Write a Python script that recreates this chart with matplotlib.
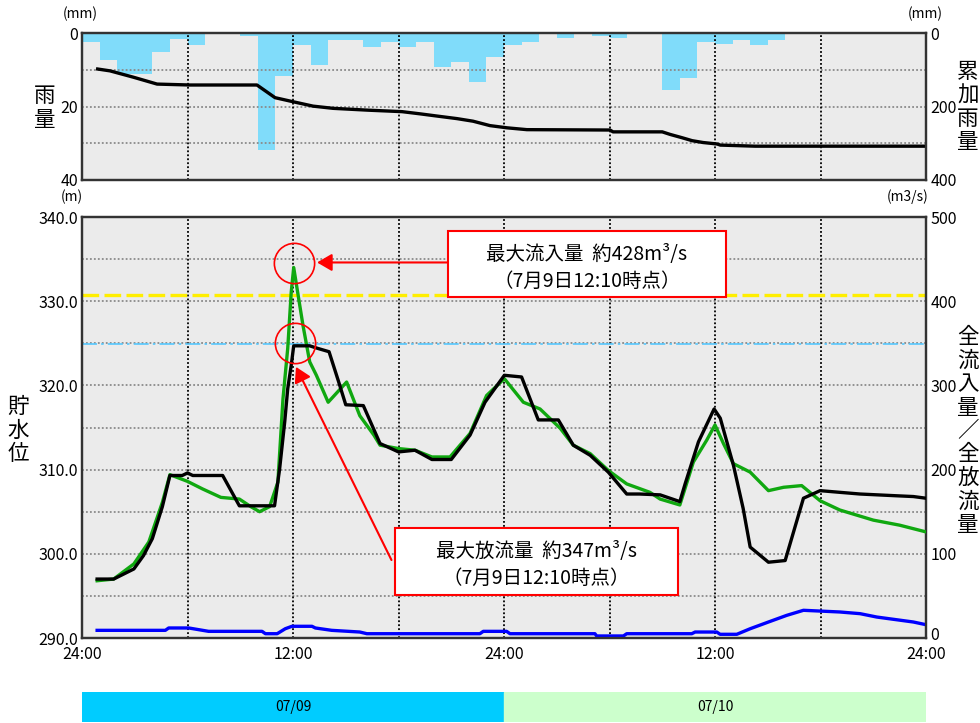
import numpy as np
import matplotlib
matplotlib.use('Agg')
import matplotlib.pyplot as plt
from matplotlib.patches import Rectangle
from matplotlib.transforms import ScaledTranslation

plt.rcParams['font.family'] = ['Noto Sans CJK JP', 'DejaVu Sans']

# 時間雨量 (mm)  7/9 00:00 から1時間ごと
rain = [2.5, 7.3, 11.1, 11.1, 5.3, 1.5, 3.4, 0, 0, 0.9, 31.8, 11.8, 3.4, 8.8,
        2.0, 2.0, 3.8, 2.5, 3.8, 2.5, 9.3, 7.9, 13.2, 6.4, 3.4, 2.5, 0, 1.4,
        0, 0.7, 1.4, 0, 0, 15.6, 12.3, 2.5, 2.9, 2.0, 3.4, 2.0,
        0, 0, 0, 0, 0, 0, 0, 0]

# 累加雨量 (mm)  時刻は 7/9 00:00 からの経過時間
t_cum = [0.89, 1.59, 2.9, 4.27, 6.14, 9.95, 10.98, 12.0, 13.14, 14.28, 16.27,
         18.2, 19.23, 20.19, 21.33, 22.24, 23.2, 24.17, 25.3, 30.03, 30.2,
         33.0, 33.45, 34.13, 34.7, 35.32, 36.12, 36.3, 38.28, 48.0]
cum = [98, 103, 120, 139, 141.5, 141.5, 176, 187, 199, 205, 210,
       214, 220, 226, 233, 240, 252, 258, 263, 264, 269,
       269, 276, 285, 293, 298, 302, 305, 308, 308]

# 全流入量 (m3/s)
t_in = [0.86, 1.8, 2.95, 3.8, 4.57, 5.0, 6.0, 6.86, 7.9, 8.95, 9.6, 10.1,
        10.67, 11.14, 11.43, 11.7, 11.9, 12.04, 12.2, 12.57, 12.95, 13.33,
        14.0, 15.05, 15.8, 16.6, 16.95, 18.0, 18.94, 19.9, 20.93, 22.07, 23.01,
        24.02, 25.1, 26.05, 27.2, 27.94, 28.9, 29.93, 30.98, 32.3, 32.88,
        34.0, 34.77, 35.53, 36.0, 36.48, 37.05, 38.0, 39.04, 39.9, 40.93,
        41.98, 43.1, 45.0, 46.5, 48.0]
q_in = [68, 70, 88, 114, 161, 194, 186, 177, 167, 165, 156, 150,
        156, 185, 284, 344, 411, 440, 419, 371, 328, 312,
        280, 304, 264, 241, 229, 225, 223, 215, 215, 243, 288,
        308, 280, 272, 249, 229, 219, 199, 183, 173, 165,
        158, 209, 235, 253, 231, 207, 197, 175, 179, 181,
        163, 152, 140, 134, 126]

# 全放流量 (m3/s)
t_out = [0.86, 1.8, 2.95, 3.5, 4.0, 4.57, 5.0, 5.7, 6.0, 6.3, 8.0, 8.95,
         10.95, 11.24, 11.53, 11.7, 11.9, 12.04, 12.95, 13.4, 14.05, 14.6,
         15.0, 16.0, 16.95, 18.0, 18.94, 19.9, 21.0, 22.07, 22.92, 24.02,
         25.0, 25.95, 27.09, 27.94, 28.9, 29.93, 30.98, 31.7, 32.88, 34.0,
         34.3, 35.06, 35.95, 36.3, 37.05, 37.6, 38.0, 39.04, 39.99, 41.03,
         41.98, 43.1, 44.25, 46.24, 47.28, 48.0]
q_out = [70, 70, 82, 98, 118, 156, 193, 193, 196, 193, 193, 157,
         157, 201, 257, 296, 324, 347, 347, 344, 340, 304,
         277, 276, 231, 221, 223, 212, 212, 241, 280, 312,
         310, 259, 259, 229, 217, 197, 171, 171, 170, 162,
         183, 233, 272, 261, 205, 154, 108, 90, 92, 166,
         175, 173, 171, 169, 168, 166]

# 貯水位 (m)
t_lv = [0.86, 4.74, 4.93, 6.07, 7.2, 10.24, 10.43, 11.1, 11.56, 11.94, 13.08,
        13.27, 14.2, 15.8, 16.2, 22.63, 22.82, 24.15, 24.34, 29.17, 29.27,
        30.79, 30.98, 34.68, 34.87, 36.1, 36.29, 37.24, 38.0, 39.04, 40.08,
        41.03, 43.1, 44.25, 45.2, 46.15, 47.28, 48.0]
lv = [290.91, 290.91, 291.19, 291.19, 290.79, 290.79, 290.51, 290.51, 291.1,
      291.39, 291.39, 291.19, 290.91, 290.71, 290.51, 290.51, 290.79, 290.79,
      290.51, 290.51, 290.24, 290.24, 290.51, 290.51, 290.71, 290.71, 290.44,
      290.44, 291.1, 291.9, 292.69, 293.29, 293.09, 292.89, 292.49, 292.22,
      291.9, 291.58]

lv_yellow = 330.7
lv_cyan = 324.9

xtick_pos = [0, 12, 24, 36, 48]
xtick_lab = ['24:00', '12:00', '24:00', '12:00', '24:00']
dates = ['07/09', '07/10']

W, H = 980, 723
fig = plt.figure(figsize=(9.8, 7.23), dpi=100)


def fx(px):
    return px / W


def fy(py):
    return 1 - py / H


def vlabel(text, x, y0, step=23.5, fs=15.5):
    for i, ch in enumerate(text):
        fig.text(fx(x), fy(y0 + i * step), ch, ha='center', va='center', fontsize=fs)


def frame(ax):
    for s in ax.spines.values():
        s.set_color('#333333')
        s.set_linewidth(1.6)


gray_dot = dict(color='#8a8a8a', lw=1.3, ls=(0, (1, 1.2)))
black_dot = dict(color='black', lw=1.3, ls=(0, (1, 1.2)))

# ---- 上段 雨量 ----
ax1 = fig.add_axes([fx(82), fy(180), fx(926) - fx(82), fy(33) - fy(180)])
ax1.set_facecolor('#EBEBEB')
ax1.bar(np.arange(len(rain)), rain, width=1, align='edge', color='#80DCFA', zorder=1)
for v in [10, 20, 30]:
    ax1.axhline(v, zorder=3, **gray_dot)
for v in range(6, 48, 6):
    ax1.axvline(v, zorder=3, **black_dot)
ax1.set_xlim(0, 48)
ax1.set_ylim(40, 0)
ax1.set_xticks([])
ax1.set_yticks([0, 20, 40])
ax1.tick_params(length=0, labelsize=11.5, pad=3)
frame(ax1)

ax1r = ax1.twinx()
ax1r.plot(t_cum, cum, color='black', lw=2.4)
ax1r.set_ylim(400, 0)
ax1r.set_yticks([0, 200, 400])
ax1r.tick_params(length=0, labelsize=11.5, pad=3)
frame(ax1r)

fig.text(fx(80), fy(14), '(mm)', ha='center', va='center', fontsize=10)
fig.text(fx(925), fy(14), '(mm)', ha='center', va='center', fontsize=10)
vlabel('雨量', 45, 96, 24)
vlabel('累加雨量', 968, 72)

# ---- 下段 貯水位・流量 ----
ax2 = fig.add_axes([fx(82), fy(638), fx(926) - fx(82), fy(217) - fy(638)])
ax2.set_facecolor('#EBEBEB')
for v in np.arange(295, 340, 5):
    ax2.axhline(v, zorder=1, **gray_dot)
for v in range(6, 48, 6):
    ax2.axvline(v, zorder=1, **black_dot)
ax2.axhline(lv_yellow, color='#FFEE00', lw=2.4, dashes=(5, 1.6), zorder=2)
ax2.axhline(lv_cyan, color='#55C8FF', lw=1.2, dashes=(9, 2.5, 1.5, 2.5), zorder=2)
ax2.plot(t_lv, lv, color='#0000FF', lw=2.4, zorder=3)
ax2.set_xlim(0, 48)
ax2.set_ylim(290, 340)
ax2.set_yticks(np.arange(290, 341, 10))
ax2.set_yticklabels(['%.1f' % v for v in np.arange(290, 341, 10)])
ax2.set_xticks(xtick_pos)
ax2.set_xticklabels(xtick_lab)
ax2.tick_params(length=0, labelsize=11.5, pad=3)
ax2.tick_params(axis='x', pad=6)
frame(ax2)

ax2r = ax2.twinx()
ax2r.plot(t_in, q_in, color='#10A810', lw=2.4, zorder=3)
ax2r.plot(t_out, q_out, color='black', lw=2.4, zorder=4)
ax2r.set_ylim(0, 500)
ax2r.set_yticks(np.arange(0, 501, 100))
ax2r.tick_params(length=0, labelsize=11.5, pad=3)
frame(ax2r)
# 右下の「0」を少し上げて時刻ラベルと重ならないように
lab0 = ax2r.get_yticklabels()[0]
lab0.set_transform(lab0.get_transform() + ScaledTranslation(0, 4 / 100, fig.dpi_scale_trans))

# 最大値の注記
ax2r.plot(12.06, 445, 'o', ms=29, mfc='none', mec='red', mew=1.2, zorder=6)
ax2r.plot(12.12, 350, 'o', ms=29, mfc='none', mec='red', mew=1.2, zorder=6)
arw = dict(arrowstyle='-|>,head_length=0.6,head_width=0.35', color='red',
           lw=1.5, mutation_scale=15, shrinkA=0, shrinkB=0)
ax2r.annotate('', xy=(13.37, 446), xytext=(20.8, 446), arrowprops=arw, zorder=6)
ax2r.annotate('', xy=(12.17, 322), xytext=(17.6, 92.6), arrowprops=arw, zorder=6)

boxes = [
    (0.4336, 0.81, 0.3294, 0.1567, 0.5983, 0.912, 0.848,
     '最大流入量  約428m³/s', '（7月9日12:10時点）'),
    (0.3709, 0.1021, 0.3353, 0.1592, 0.5385, 0.2043, 0.1425,
     '最大放流量  約347m³/s', '（7月9日12:10時点）'),
]
for x0, y0, w, h, xc, y1, y2, l1, l2 in boxes:
    ax2r.add_patch(Rectangle((x0, y0), w, h, transform=ax2r.transAxes,
                             fc='white', ec='red', lw=1.5, zorder=7))
    ax2r.text(xc, y1, l1, transform=ax2r.transAxes, ha='center', va='center',
              fontsize=14, zorder=8)
    ax2r.text(xc, y2, l2, transform=ax2r.transAxes, ha='center', va='center',
              fontsize=14, zorder=8)

fig.text(fx(72), fy(197), '(m)', ha='center', va='center', fontsize=10)
fig.text(fx(908), fy(197), '(m3/s)', ha='center', va='center', fontsize=10)
vlabel('貯水位', 18, 407)
vlabel('全流入量／全放流量', 968, 337)

# ---- 日付バー ----
ax3 = fig.add_axes([fx(82), fy(722), fx(926) - fx(82), fy(692) - fy(722)])
ax3.axvspan(0, 24, color='#00CCFF')
ax3.axvspan(24, 48, color='#CCFFCC')
ax3.set_xlim(0, 48)
ax3.set_ylim(0, 1)
ax3.axis('off')
ax3.text(12, 0.5, dates[0], ha='center', va='center', fontsize=10)
ax3.text(36, 0.5, dates[1], ha='center', va='center', fontsize=10)

fig.savefig('out.png', dpi=100)
